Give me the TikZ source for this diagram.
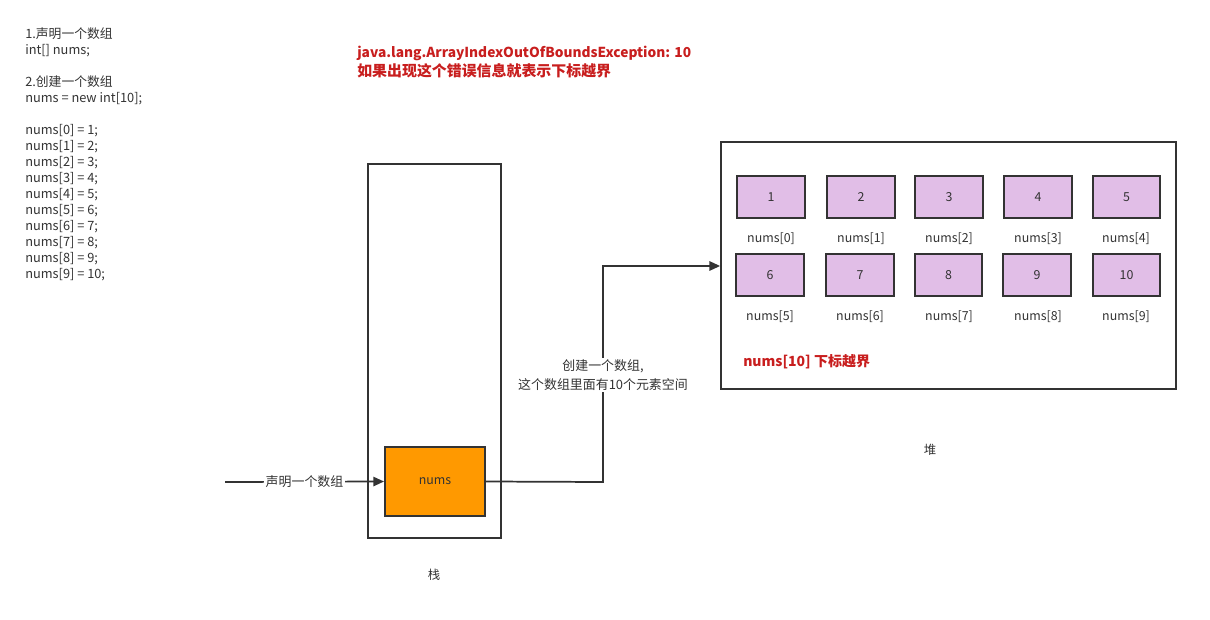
\documentclass[tikz,border=0pt]{standalone}
\usepackage{fontspec}
\setmainfont{Noto Sans CJK SC}
\usetikzlibrary{arrows.meta}
\definecolor{ink}{HTML}{333333}
\definecolor{errred}{HTML}{C81E1E}
\definecolor{cellfill}{HTML}{E1BEE7}
\definecolor{stackfill}{HTML}{FF9900}
\tikzset{
  frame/.style={draw=ink, line width=1.3pt},
  cell/.style={draw=ink, line width=1.5pt, fill=cellfill, minimum width=50.5pt, minimum height=31.5pt, inner sep=0pt, font=\fontsize{9.3}{11}\selectfont, text=ink},
  txt/.style={font=\fontsize{9.3}{11}\selectfont, text=ink, inner sep=0pt},
  conn/.style={draw=ink, line width=1.3pt},
  arr/.style={conn, -{Triangle[length=8pt,width=7pt]}},
  lbl/.style={fill=white, font=\fontsize{9.7}{11}\selectfont, text=ink, inner sep=1pt, align=center}
}
\begin{document}
\begin{tikzpicture}[x=0.75pt,y=-0.75pt]
\useasboundingbox (0,0) rectangle (1210,620);
% left code text
\node[txt, anchor=north west, align=left, font=\fontsize{9.6}{12}\selectfont] (code) at (25,27)
 {1.声明一个数组\\ int[] nums;\\[12pt] 2.创建一个数组\\ nums = new int[10];\\[12pt]
  nums[0] = 1;\\ nums[1] = 2;\\ nums[2] = 3;\\ nums[3] = 4;\\ nums[4] = 5;\\
  nums[5] = 6;\\ nums[6] = 7;\\ nums[7] = 8;\\ nums[8] = 9;\\ nums[9] = 10;};
% red error text
\node[anchor=north west, inner sep=0pt, align=left, text=errred, font=\bfseries\fontsize{10.3}{14.25}\selectfont] (err) at (357,46)
 {java.lang.ArrayIndexOutOfBoundsException: 10\\ {\fontsize{11.2}{14.25}\selectfont 如果出现这个错误信息就表示下标越界}};
% stack
\node[frame, minimum width=99.75pt, minimum height=280.5pt, inner sep=0pt] (stack) at (434.5,351) {};
\node[draw=ink, line width=1.5pt, fill=stackfill, minimum width=75pt, minimum height=51.75pt, inner sep=0pt, text height=4.5pt, text depth=0pt, font=\fontsize{9.3}{11}\selectfont, text=ink] (nums) at (435,481.5) {nums};
\node[txt] (stacklbl) at (434,575) {栈};
% heap
\node[frame, minimum width=341.25pt, minimum height=185.25pt, inner sep=0pt] (heap) at (948.5,265.5) {};
\node[txt] (heaplbl) at (930,450) {堆};
% cells
\node[cell] (c1) at (771,197) {1};
\node[cell] (c2) at (861,197) {2};
\node[cell] (c3) at (949,197) {3};
\node[cell] (c4) at (1038,197) {4};
\node[cell] (c5) at (1126.5,197) {5};
\node[cell] (c6) at (770,275.5) {6};
\node[cell] (c7) at (860,275.5) {7};
\node[cell] (c8) at (948.5,275.5) {8};
\node[cell] (c9) at (1037,275.5) {9};
\node[cell] (c10) at (1126.5,275.5) {10};
\node[txt] (l0) at (771,239) {nums[0]};
\node[txt] (l1) at (861,239) {nums[1]};
\node[txt] (l2) at (949,239) {nums[2]};
\node[txt] (l3) at (1038,239) {nums[3]};
\node[txt] (l4) at (1126,239) {nums[4]};
\node[txt] (l5) at (770,317) {nums[5]};
\node[txt] (l6) at (860,317) {nums[6]};
\node[txt] (l7) at (949,317) {nums[7]};
\node[txt] (l8) at (1038,317) {nums[8]};
\node[txt] (l9) at (1126,317) {nums[9]};
\node[anchor=west, inner sep=0pt, text=errred, font=\bfseries\fontsize{10.5}{12}\selectfont] (oob) at (743,362) {nums[10] 下标越界};
% connectors
\coordinate (start) at (225,482);
\draw[arr] (start) -- node[lbl] (declbl) {声明一个数组} (nums.west);
\coordinate (bend1) at (603,482);
\coordinate (bend2) at (603,266);
\draw[arr] (nums.east) -- (bend1) -- (bend2) -- (heap.west |- bend2);
\node[lbl, font=\fontsize{9.7}{14}\selectfont] (newlbl) at (603,375) {创建一个数组,\\ 这个数组里面有10个元素空间};
\end{tikzpicture}
\end{document}
